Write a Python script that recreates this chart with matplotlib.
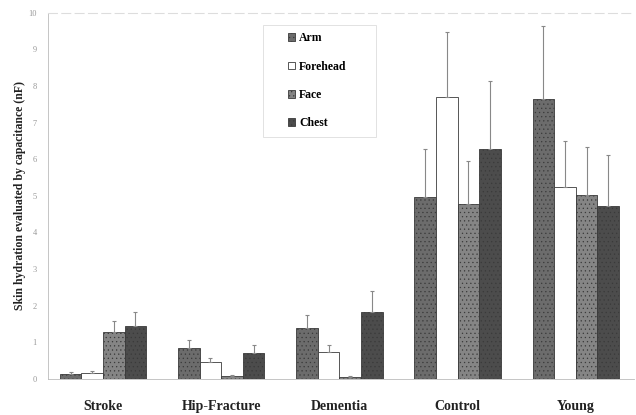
import numpy as np
import matplotlib.pyplot as plt
from matplotlib.patches import Rectangle

groups = ["Stroke", "Hip-Fracture", "Dementia", "Control", "Young"]
sites = ["Arm", "Forehead", "Face", "Chest"]

arm = [0.14, 0.84, 1.38, 4.98, 7.65]
forehead = [0.17, 0.45, 0.73, 7.69, 5.24]
face = [1.28, 0.08, 0.05, 4.77, 5.03]
chest = [1.45, 0.70, 1.84, 6.28, 4.71]

arm_err = [0.04, 0.23, 0.37, 1.30, 1.98]
forehead_err = [0.04, 0.11, 0.20, 1.80, 1.26]
face_err = [0.30, 0.03, 0.02, 1.19, 1.30]
chest_err = [0.39, 0.23, 0.56, 1.87, 1.41]

plt.rcParams['font.family'] = ['Liberation Serif', 'DejaVu Serif']
plt.rcParams['hatch.color'] = '#a0a0a0'
plt.rcParams['hatch.linewidth'] = 0.4

fig = plt.figure(figsize=(6.36, 4.15), dpi=100)
ax = fig.add_axes([0.0755, 0.087, 0.921, 0.882])

x = np.arange(len(groups))
w = 0.183
series = [(arm, arm_err, '#6c6c6c', '....'),
          (forehead, forehead_err, 'white', None),
          (face, face_err, '#858585', '....'),
          (chest, chest_err, '#4c4c4c', '....')]

for i, (vals, errs, col, hatch) in enumerate(series):
    pos = x + (i - 1.5) * w
    ax.bar(pos, vals, w, color=col, edgecolor='#3a3a3a', linewidth=0.6,
           hatch=hatch, label=sites[i])
    ax.errorbar(pos, vals, yerr=[np.zeros(len(vals)), errs], fmt='none',
                ecolor='#888888', elinewidth=0.8, capsize=1.5, capthick=0.8)

ax.set_xlim(-0.465, 4.49)
ax.set_ylim(0, 10)
ax.set_yticks(range(0, 11))
ax.set_xticks(x)
ax.set_xticklabels(groups, fontsize=10, fontweight='bold', color='#222222')
ax.tick_params(axis='y', labelsize=6, colors='#999999', length=0, pad=8)
ax.tick_params(axis='x', length=0, pad=15)
ax.set_ylabel("Skin hydration evaluated by capacitance (nF)", fontsize=8.5,
              fontweight='bold', color='#222222', labelpad=2)

ax.spines['right'].set_visible(False)
ax.spines['top'].set_color('#dddddd')
ax.spines['top'].set_linestyle((0, (8, 4)))
for s in ['left', 'bottom']:
    ax.spines[s].set_color('#bbbbbb')
    ax.spines[s].set_linewidth(0.6)

# legend box like the scanned original
fig.patches.append(Rectangle((263 / 636, 1 - 137 / 415), 113 / 636, 112 / 415,
                             transform=fig.transFigure, fill=False,
                             edgecolor='#dddddd', linewidth=0.6))
leg = ax.legend(loc='upper left', bbox_to_anchor=(0.38, 0.995),
                prop={'weight': 'bold', 'size': 8.5}, labelspacing=1.38,
                handlelength=0.6, handleheight=0.6, handletextpad=0.3,
                borderpad=1.0, frameon=False)

fig.savefig("out.png", dpi=100)
